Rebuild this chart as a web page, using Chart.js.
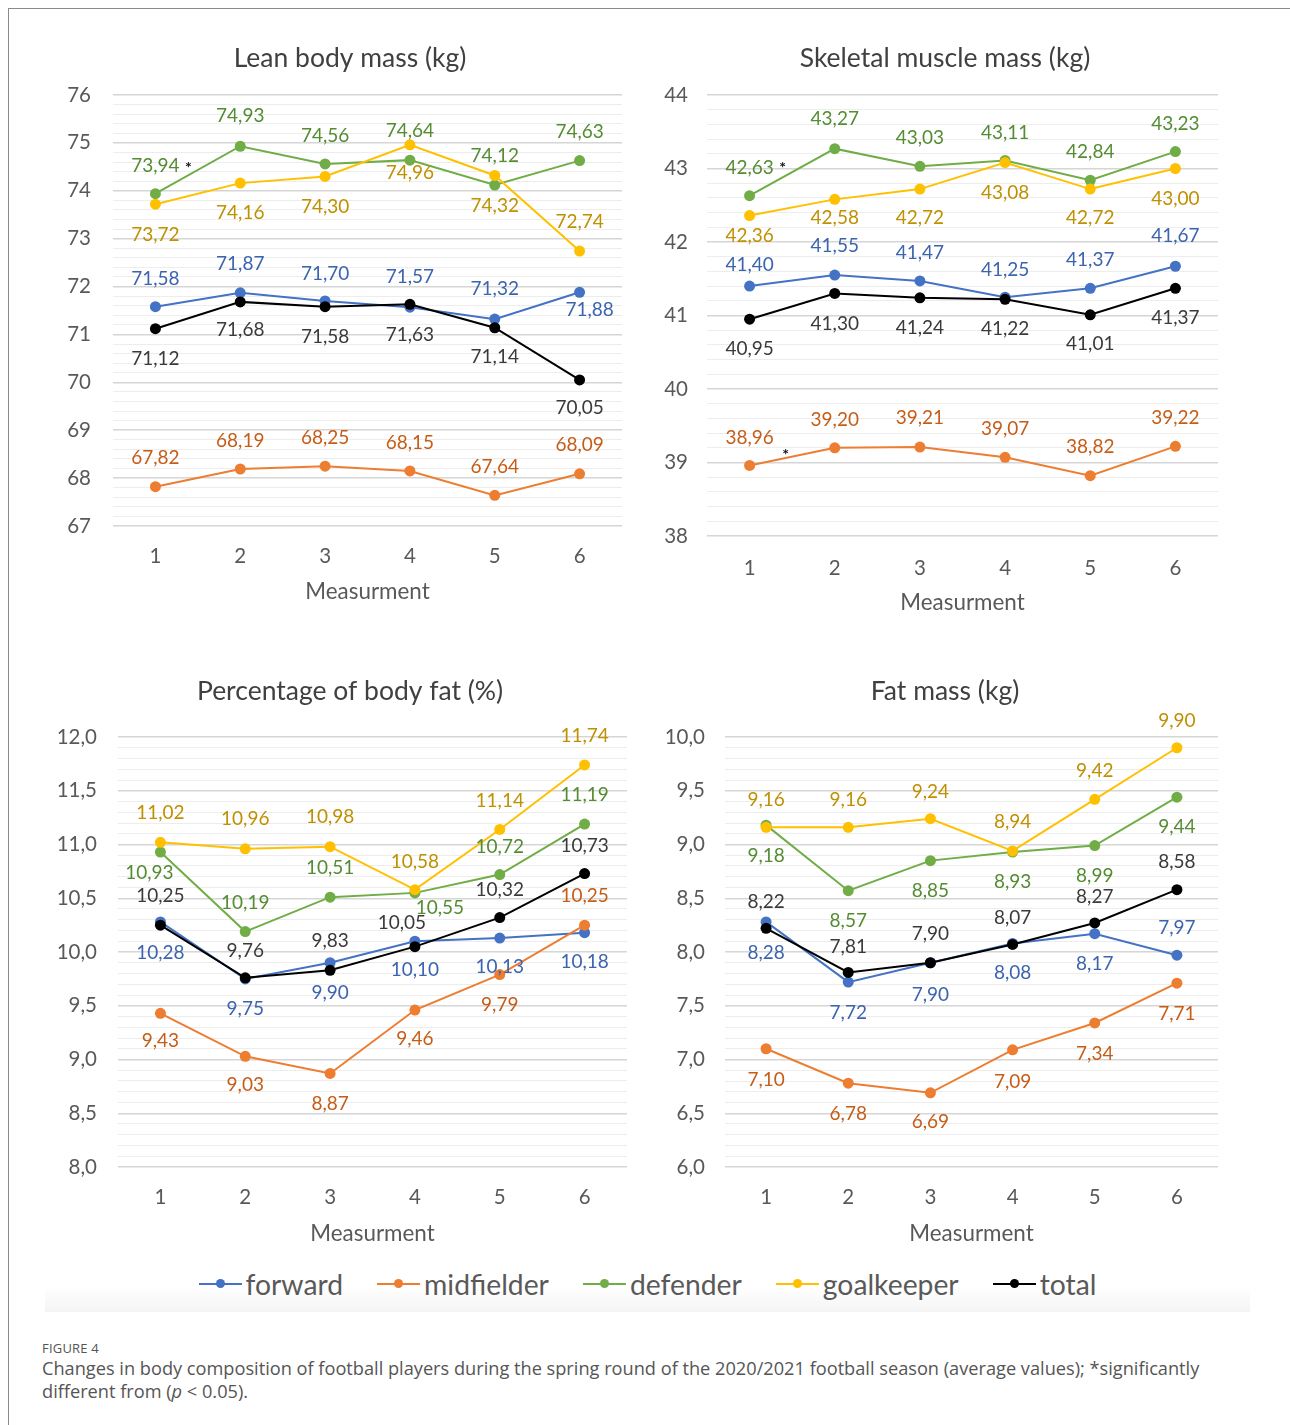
<!DOCTYPE html>
<html>
<head>
<meta charset="utf-8">
<script src="https://cdn.jsdelivr.net/npm/chart.js@4.4.0/dist/chart.umd.min.js"></script>
<style>
html,body{margin:0;padding:0;background:#fff;}
body{width:1290px;height:1425px;position:relative;overflow:hidden;font-family:Lato,"Open Sans",sans-serif;}
#frame{position:absolute;left:8px;top:8px;width:1400px;height:1500px;border-left:1px solid #8a8a8a;border-top:1px solid #8a8a8a;}
canvas{position:absolute;}
#legend{position:absolute;left:45px;top:1255px;width:1205px;height:57px;background:linear-gradient(to bottom,#ffffff 0%,#ffffff 55%,#f4f4f4 100%);display:flex;justify-content:center;align-items:center;font-family:Lato,sans-serif;font-size:28.3px;color:#595959;}
#legend .item{display:inline-flex;align-items:center;margin:0 17px;}
#legend .mk{display:inline-block;width:43px;height:2px;position:relative;margin-right:4px;}
#legend .mk i{position:absolute;left:17px;top:-3.5px;width:9px;height:9px;border-radius:50%;}
#fig{position:absolute;left:42px;top:1339px;font-family:"Open Sans",sans-serif;font-size:13px;color:#555;letter-spacing:0.2px;}
#cap{position:absolute;left:42px;top:1357px;font-family:"Open Sans",sans-serif;font-size:18.2px;line-height:22.5px;color:#555;white-space:nowrap;}
</style>
</head>
<body>
<div id="frame"></div>
<canvas id="c1" width="600" height="580" style="left:50px;top:28px"></canvas>
<canvas id="c2" width="586" height="591" style="left:652px;top:28px"></canvas>
<canvas id="c3" width="610" height="589" style="left:45px;top:661px"></canvas>
<canvas id="c4" width="580" height="589" style="left:655px;top:661px"></canvas>
<div id="legend"></div>
<div id="fig">FIGURE 4</div>
<div id="cap">Changes in body composition of football players during the spring round of the 2020/2021 football season (average values); *significantly<br>different from (<i>p</i> &lt; 0.05).</div>
<script>
// ---------- DATA ----------
const measurements = ['1', '2', '3', '4', '5', '6'];
const seriesNames = ['forward', 'midfielder', 'defender', 'goalkeeper', 'total'];

// Lean body mass (kg)
const leanForward    = [71.58, 71.87, 71.70, 71.57, 71.32, 71.88];
const leanMidfielder = [67.82, 68.19, 68.25, 68.15, 67.64, 68.09];
const leanDefender   = [73.94, 74.93, 74.56, 74.64, 74.12, 74.63];
const leanGoalkeeper = [73.72, 74.16, 74.30, 74.96, 74.32, 72.74];
const leanTotal      = [71.12, 71.68, 71.58, 71.63, 71.14, 70.05];

// Skeletal muscle mass (kg)
const smmForward    = [41.40, 41.55, 41.47, 41.25, 41.37, 41.67];
const smmMidfielder = [38.96, 39.20, 39.21, 39.07, 38.82, 39.22];
const smmDefender   = [42.63, 43.27, 43.03, 43.11, 42.84, 43.23];
const smmGoalkeeper = [42.36, 42.58, 42.72, 43.08, 42.72, 43.00];
const smmTotal      = [40.95, 41.30, 41.24, 41.22, 41.01, 41.37];

// Percentage of body fat (%)
const pbfForward    = [10.28, 9.75, 9.90, 10.10, 10.13, 10.18];
const pbfMidfielder = [9.43, 9.03, 8.87, 9.46, 9.79, 10.25];
const pbfDefender   = [10.93, 10.19, 10.51, 10.55, 10.72, 11.19];
const pbfGoalkeeper = [11.02, 10.96, 10.98, 10.58, 11.14, 11.74];
const pbfTotal      = [10.25, 9.76, 9.83, 10.05, 10.32, 10.73];

// Fat mass (kg)
const fmForward    = [8.28, 7.72, 7.90, 8.08, 8.17, 7.97];
const fmMidfielder = [7.10, 6.78, 6.69, 7.09, 7.34, 7.71];
const fmDefender   = [9.18, 8.57, 8.85, 8.93, 8.99, 9.44];
const fmGoalkeeper = [9.16, 9.16, 9.24, 8.94, 9.42, 9.90];
const fmTotal      = [8.22, 7.81, 7.90, 8.07, 8.27, 8.58];

// ---------- STYLE ----------
const lineColors  = ['#4472C4', '#ED7D31', '#70AD47', '#FFC000', '#000000'];
const labelColors = ['#3C64AE', '#C65D17', '#548C32', '#BF9000', '#3A3A3A'];

// label placement (pixel offsets from the point) per series
const place1 = [
  {dy: [-28, -29, -27, -30, -30, 18], dx: [0, 0, 0, 0, 0, 10]},
  {dy: [-29, -28, -28, -28, -28, -29]},
  {dy: [-28, -30, -28, -29, -29, -29]},
  {dy: [31, 30, 30, 28, 30, -29]},
  {dy: [30, 28, 30, 31, 29, 28]}
];
const place2 = [
  {dy: [-21, -29, -28, -27, -28, -30]},
  {dy: [-28, -28, -29, -28, -29, -28]},
  {dy: [-28, -30, -28, -28, -28, -28]},
  {dy: [20, 19, 29, 30, 29, 30]},
  {dy: [30, 30, 30, 30, 29, 30]}
];
const place3 = [
  {dy: [31, 30, 30, 29, 29, 29]},
  {dy: [28, 29, 30, 29, 30, -29]},
  {dy: [21, -29, -29, 15, -28, -29], dx: [-11, 0, 0, 25, 0, 0]},
  {dy: [-29, -30, -30, -28, -29, -29]},
  {dy: [-29, -27, -29, -24, -28, -28], dx: [0, 0, 0, -13, 0, 0]}
];
const place4 = [
  {dy: [31, 31, 32, 29, 30, -27]},
  {dy: [31, 31, 29, 32, 31, 31]},
  {dy: [31, 30, 30, 30, 30, 30]},
  {dy: [-27, -27, -27, -29, -28, -27]},
  {dy: [-26, -26, -29, -27, -26, -28]}
];
const stars1 = [{ds: 2, i: 0, dx: 33, dy: -29}];
const stars2 = [{ds: 2, i: 0, dx: 33, dy: -31}, {ds: 1, i: 0, dx: 36, dy: -14}];

const FONT = 'Lato';

const labelPlugin = {
  id: 'vlabels',
  afterDatasetsDraw(chart, args, opts) {
    const ctx = chart.ctx;
    ctx.save();
    ctx.textAlign = 'center';
    ctx.textBaseline = 'middle';
    ctx.font = '19px ' + FONT;
    chart.data.datasets.forEach((ds, di) => {
      const meta = chart.getDatasetMeta(di);
      const p = opts.place[di];
      meta.data.forEach((pt, j) => {
        ctx.fillStyle = ds.labelColor;
        const dx = p.dx ? p.dx[j] : 0;
        ctx.fillText(ds.data[j].toFixed(2).replace('.', ','), pt.x + dx, pt.y + p.dy[j]);
      });
    });
    ctx.font = 'bold 16px ' + FONT;
    ctx.fillStyle = '#111';
    (opts.stars || []).forEach(s => {
      const pt = chart.getDatasetMeta(s.ds).data[s.i];
      ctx.fillText('*', pt.x + s.dx, pt.y + s.dy + 3);
    });
    ctx.restore();
  }
};

function makeChart(id, cfg) {
  const datasets = cfg.series.map((arr, i) => ({
    label: seriesNames[i],
    data: arr,
    borderColor: lineColors[i],
    backgroundColor: lineColors[i],
    pointBackgroundColor: lineColors[i],
    pointBorderColor: lineColors[i],
    pointRadius: 5.5,
    pointBorderWidth: 0,
    borderWidth: 2,
    tension: 0,
    order: cfg.series.length - 1 - i,
    labelColor: labelColors[i]
  }));
  const isMajor = v => Math.abs(v / cfg.major - Math.round(v / cfg.major)) < 1e-6;
  return new Chart(document.getElementById(id), {
    type: 'line',
    data: {labels: measurements, datasets},
    options: {
      responsive: false,
      animation: false,
      events: [],
      layout: {padding: 0},
      plugins: {
        legend: {display: false},
        tooltip: {enabled: false},
        title: {
          display: true,
          text: cfg.title,
          color: '#404040',
          font: {family: FONT, size: 26.5, weight: 'normal'},
          padding: {top: 14.1, bottom: cfg.tpb}
        },
        vlabels: {place: cfg.place, stars: cfg.stars}
      },
      scales: {
        x: {
          type: 'category',
          offset: true,
          grid: {display: false, drawTicks: false},
          border: {display: false},
          ticks: {color: '#595959', font: {family: FONT, size: 20.5}, padding: cfg.xpad},
          title: {display: true, text: 'Measurment', color: '#595959',
                  font: {family: FONT, size: 22.4}, padding: {top: 0, bottom: 2.5}},
          afterFit(s) { s.height = cfg.xh; }
        },
        y: {
          min: cfg.min,
          max: cfg.max,
          border: {display: false},
          grid: {
            drawTicks: false,
            color: c => isMajor(c.tick.value) ? '#d6d6d6' : '#ededed',
            lineWidth: c => isMajor(c.tick.value) ? 1.5 : 1
          },
          ticks: {
            stepSize: cfg.minor,
            maxTicksLimit: 200,
            autoSkip: false,
            padding: cfg.ypad,
            color: '#595959',
            font: {family: FONT, size: 20.5},
            callback: v => isMajor(v) ? v.toFixed(cfg.dec).replace('.', ',') : ''
          },
          afterFit(s) { s.width = cfg.yw; }
        },
        yr: {
          type: 'linear',
          position: 'right',
          display: true,
          grid: {display: false, drawTicks: false},
          border: {display: false},
          ticks: {display: false},
          afterFit(s) { s.width = cfg.y2w; }
        }
      }
    },
    plugins: [labelPlugin]
  });
}

function buildLegend() {
  const lg = document.getElementById('legend');
  seriesNames.forEach((n, i) => {
    const it = document.createElement('span');
    it.className = 'item';
    it.innerHTML = '<span class="mk" style="background:' + lineColors[i] + '"><i style="background:' + lineColors[i] + '"></i></span>' + n;
    lg.appendChild(it);
  });
}

function build() {
  makeChart('c1', {
    title: 'Lean body mass (kg)',
    series: [leanForward, leanMidfielder, leanDefender, leanGoalkeeper, leanTotal],
    min: 67, max: 76, minor: 0.2, major: 1, dec: 0,
    yw: 63, y2w: 28, tpb: 21.1, xh: 82, xpad: 17.7, ypad: 22,
    place: place1, stars: stars1
  });
  makeChart('c2', {
    title: 'Skeletal muscle mass (kg)',
    series: [smmForward, smmMidfielder, smmDefender, smmGoalkeeper, smmTotal],
    min: 38, max: 44, minor: 0.2, major: 1, dec: 0,
    yw: 55, y2w: 20, tpb: 21.1, xh: 83, xpad: 19.7, ypad: 19,
    place: place2, stars: stars2
  });
  makeChart('c3', {
    title: 'Percentage of body fat (%)',
    series: [pbfForward, pbfMidfielder, pbfDefender, pbfGoalkeeper, pbfTotal],
    min: 8, max: 12, minor: 0.1, major: 0.5, dec: 1,
    yw: 73, y2w: 28, tpb: 30.1, xh: 83, xpad: 17.7, ypad: 21,
    place: place3, stars: []
  });
  makeChart('c4', {
    title: 'Fat mass (kg)',
    series: [fmForward, fmMidfielder, fmDefender, fmGoalkeeper, fmTotal],
    min: 6, max: 10, minor: 0.1, major: 0.5, dec: 1,
    yw: 70, y2w: 17, tpb: 30.1, xh: 83, xpad: 17.7, ypad: 20,
    place: place4, stars: []
  });
  buildLegend();
}

const fontLoads = document.fonts ? Promise.all([
  document.fonts.load('19px Lato'), document.fonts.load('26px Lato'),
  document.fonts.load('bold 16px Lato'), document.fonts.load('17px "Open Sans"')
]).catch(() => {}) : Promise.resolve();
fontLoads.then(build);
</script>
</body>
</html>
